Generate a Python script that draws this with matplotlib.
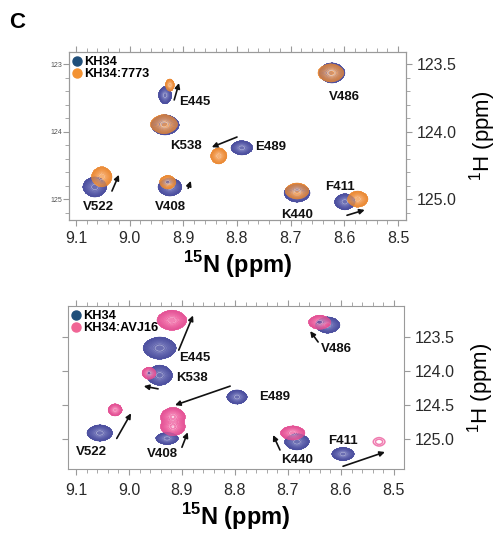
import numpy as np
import matplotlib
matplotlib.use('Agg')
import matplotlib.pyplot as plt
from matplotlib.colors import LinearSegmentedColormap
from matplotlib.lines import Line2D
from matplotlib.ticker import MultipleLocator, FixedLocator

plt.rcParams['font.family'] = ['Liberation Sans', 'DejaVu Sans']
plt.rcParams['mathtext.fontset'] = 'custom'
plt.rcParams['mathtext.rm'] = 'Liberation Sans'
plt.rcParams['mathtext.bf'] = 'Liberation Sans:bold'

names = ['E445', 'K538', 'E489', 'V522', 'V408', 'V486', 'K440', 'F411']

# ---- top panel: KH34 vs KH34:7773 (peak centres in ppm, half widths in ppm)
top_free_x = [8.934, 8.934, 8.791, 9.065, 8.925, 8.623, 8.688, 8.599]
top_free_y = [123.46, 123.90, 124.24, 124.82, 124.82, 123.13, 124.91, 125.04]
top_free_hx = [0.012, 0.026, 0.020, 0.022, 0.022, 0.024, 0.024, 0.019]
top_free_hy = [0.126, 0.148, 0.104, 0.148, 0.133, 0.148, 0.133, 0.118]

top_bound_x = [8.925, 8.936, 8.834, 9.052, 8.929, 8.625, 8.688, 8.575]
top_bound_y = [123.31, 123.89, 124.36, 124.67, 124.75, 123.13, 124.88, 125.00]
top_bound_hx = [0.008, 0.025, 0.015, 0.019, 0.015, 0.024, 0.022, 0.019]
top_bound_hy = [0.090, 0.140, 0.118, 0.148, 0.100, 0.133, 0.118, 0.118]

top_label_x = [8.878, 8.895, 8.737, 9.059, 8.925, 8.599, 8.688, 8.608]
top_label_y = [123.56, 124.21, 124.23, 125.12, 125.12, 123.49, 125.24, 124.82]

top_arrow_from = [(8.917, 123.53), (8.800, 124.08), (9.033, 124.88), (8.891, 124.84), (8.595, 125.24)]
top_arrow_to = [(8.908, 123.28), (8.847, 124.23), (9.020, 124.64), (8.886, 124.73), (8.562, 125.16)]

# ---- bottom panel: KH34 vs KH34:AVJ16
bot_free_x = [8.942, 8.942, 8.796, 9.055, 8.928, 8.625, 8.683, 8.596]
bot_free_y = [123.66, 124.06, 124.38, 124.91, 124.99, 123.32, 125.04, 125.22]
bot_free_hx = [0.031, 0.024, 0.019, 0.024, 0.021, 0.023, 0.023, 0.021]
bot_free_hy = [0.162, 0.147, 0.103, 0.118, 0.088, 0.118, 0.118, 0.096]

bot_bound_x = [8.919, 8.962, 9.026, 8.917, 8.917, 8.640, 8.691]
bot_bound_y = [123.25, 124.03, 124.57, 124.67, 124.82, 123.28, 124.91]
bot_bound_hx = [0.028, 0.013, 0.013, 0.023, 0.023, 0.021, 0.023]
bot_bound_hy = [0.147, 0.088, 0.088, 0.135, 0.130, 0.103, 0.103]

# weak F411 cross peak, drawn as an open ring
bot_weak_x = [8.528]
bot_weak_y = [125.04]
bot_weak_hx = [0.011]
bot_weak_hy = [0.062]

bot_label_x = [8.875, 8.881, 8.726, 9.070, 8.936, 8.609, 8.683, 8.596]
bot_label_y = [123.81, 124.10, 124.38, 125.19, 125.22, 123.68, 125.31, 125.03]

bot_arrow_from = [(8.906, 123.69), (8.945, 124.26), (8.809, 124.22), (9.023, 124.99),
                  (8.900, 125.12), (8.643, 123.57), (8.715, 125.16), (8.596, 125.40)]
bot_arrow_to = [(8.879, 123.18), (8.972, 124.22), (8.913, 124.50), (8.996, 124.62),
                (8.889, 124.90), (8.658, 123.41), (8.728, 124.94), (8.517, 125.19)]

levels = np.geomspace(0.06, 1.0, 11)
P = 1.8
shape_k = np.log(1 / levels[0]) ** (1 / P)


def spectrum(X, Y, xs, ys, hx, hy):
    Z = np.zeros_like(X)
    for x0, y0, sx, sy in zip(xs, ys, hx, hy):
        sx, sy = sx / shape_k, sy / shape_k
        Z += np.exp(-(np.abs((X - x0) / sx) ** P + np.abs((Y - y0) / sy) ** P))
    return Z


def draw(ax, X, Y, Z, fill, line, alpha):
    fcm = LinearSegmentedColormap.from_list('f', fill)
    lcm = LinearSegmentedColormap.from_list('l', line)
    ax.contourf(X, Y, Z, levels=np.append(levels, 50), cmap=fcm, alpha=alpha)
    ax.contour(X, Y, Z, levels=levels, cmap=lcm, linewidths=0.45, alpha=min(1, alpha + 0.1))


blue_fill = ['#6265ad', '#8a8dc8', '#c4c6e8']
blue_line = ['#474a9c', '#7679bd', '#ffffff']
orange_fill = ['#f49c50', '#f8b57e', '#fcdcc0']
orange_line = ['#e9862e', '#f3aa6c', '#ffffff']
pink_fill = ['#ef62a1', '#f58dbc', '#fbd0e3']
pink_line = ['#e04d92', '#f383b5', '#ffffff']

spine_col = '#9a9a9a'
text_col = '#2a2a2a'
tick_size = 11.5


def style(ax, xlim, ylim, xpad):
    ax.set_xlim(*xlim)
    ax.set_ylim(*ylim)
    for s in ax.spines.values():
        s.set_color(spine_col)
        s.set_linewidth(0.8)
    ax.xaxis.set_major_locator(MultipleLocator(0.1))
    ax.xaxis.set_minor_locator(MultipleLocator(0.02))
    ax.tick_params(axis='x', which='both', top=True, bottom=True, direction='out',
                   color=spine_col, labelsize=tick_size, labelcolor=text_col, pad=xpad)
    ax.tick_params(axis='x', which='major', length=4)
    ax.tick_params(axis='x', which='minor', length=3)
    ax.set_xlabel(r'$^{\mathbf{15}}$N (ppm)', fontsize=17, fontweight='bold', labelpad=2)


def annotate(ax, lx, ly, afrom, ato):
    for n, x, y in zip(names, lx, ly):
        ax.text(x, y, n, ha='center', va='center', fontsize=9.5, fontweight='bold', color='#111111')
    for a, b in zip(afrom, ato):
        ax.annotate('', xy=b, xytext=a,
                    arrowprops=dict(arrowstyle='-|>', color='#111111', lw=1.2,
                                    mutation_scale=7.5, shrinkA=0, shrinkB=0))


def legend(ax, second, col):
    h = [Line2D([], [], ls='', marker='o', ms=6.5, color='#1f4e79'),
         Line2D([], [], ls='', marker='o', ms=6.5, color=col)]
    ax.legend(h, ['KH34', second], loc='upper left', frameon=False, borderaxespad=0.15,
              borderpad=0.2, handlelength=0.5, handletextpad=0.35, labelspacing=0.0,
              prop=dict(weight='bold', size=9.2))


fig = plt.figure(figsize=(4.98, 5.33), dpi=100)

# top panel
ax1 = fig.add_axes([0.1386, 0.5872, 0.6767, 0.3152])
xl1, yl1 = (9.113, 8.485), (125.31, 122.82)
gx, gy = np.meshgrid(np.linspace(9.12, 8.48, 520), np.linspace(122.8, 125.35, 420))
draw(ax1, gx, gy, spectrum(gx, gy, top_free_x, top_free_y, top_free_hx, top_free_hy),
     blue_fill, blue_line, 0.95)
draw(ax1, gx, gy, spectrum(gx, gy, top_bound_x, top_bound_y, top_bound_hx, top_bound_hy),
     orange_fill, orange_line, 0.78)
style(ax1, xl1, yl1, 4)
ax1.yaxis.set_major_locator(FixedLocator([123, 124, 125]))
ax1.yaxis.set_minor_locator(MultipleLocator(0.2))
ax1.tick_params(axis='y', which='both', direction='out', color=spine_col, labelsize=5,
                labelcolor='#555555', pad=1)
ax1.tick_params(axis='y', which='major', length=4)
ax1.tick_params(axis='y', which='minor', length=3)
ax1r = ax1.twinx()
ax1r.set_ylim(*yl1)
ax1r.yaxis.set_major_locator(FixedLocator([123, 124, 125]))
ax1r.set_yticklabels(['123.5', '124.0', '125.0'])
ax1r.yaxis.set_minor_locator(MultipleLocator(0.2))
ax1r.tick_params(axis='y', which='both', direction='out', color=spine_col, labelsize=tick_size,
                 labelcolor=text_col, pad=4)
ax1r.tick_params(axis='y', which='major', length=4)
ax1r.tick_params(axis='y', which='minor', length=3)
for s in ax1r.spines.values():
    s.set_color(spine_col)
    s.set_linewidth(0.8)
ax1r.set_ylabel(r'$^{1}$H (ppm)', fontsize=16, labelpad=7)
annotate(ax1, top_label_x, top_label_y, top_arrow_from, top_arrow_to)
legend(ax1, 'KH34:7773', '#f39232')

# bottom panel
ax2 = fig.add_axes([0.1365, 0.1201, 0.6747, 0.3058])
xl2, yl2 = (9.115, 8.481), (125.44, 123.04)
gx, gy = np.meshgrid(np.linspace(9.12, 8.47, 520), np.linspace(123.0, 125.5, 420))
draw(ax2, gx, gy, spectrum(gx, gy, bot_free_x, bot_free_y, bot_free_hx, bot_free_hy),
     blue_fill, blue_line, 0.95)
draw(ax2, gx, gy, spectrum(gx, gy, bot_bound_x, bot_bound_y, bot_bound_hx, bot_bound_hy),
     pink_fill, pink_line, 0.8)
ax2.contour(gx, gy, spectrum(gx, gy, bot_weak_x, bot_weak_y, bot_weak_hx, bot_weak_hy),
            levels=[0.06, 0.3], colors='#f07cb0', linewidths=1.1)
style(ax2, xl2, yl2, 6)
ax2.yaxis.set_major_locator(FixedLocator([123.5, 124.0, 124.5, 125.0]))
ax2.yaxis.set_major_formatter(plt.FormatStrFormatter('%.1f'))
ax2.tick_params(axis='y', which='major', direction='out', left=True, right=True,
                labelleft=False, labelright=True, color=spine_col, length=4,
                labelsize=tick_size, labelcolor=text_col, pad=4)
ax2.yaxis.set_label_position('right')
ax2.set_ylabel(r'$^{1}$H (ppm)', fontsize=16, labelpad=7)
annotate(ax2, bot_label_x, bot_label_y, bot_arrow_from, bot_arrow_to)
legend(ax2, 'KH34:AVJ16', '#f06595')

fig.text(17 / 498, 1 - 23 / 533, 'C', ha='center', va='center', fontsize=16, fontweight='bold')

fig.savefig('out.png', dpi=100)
